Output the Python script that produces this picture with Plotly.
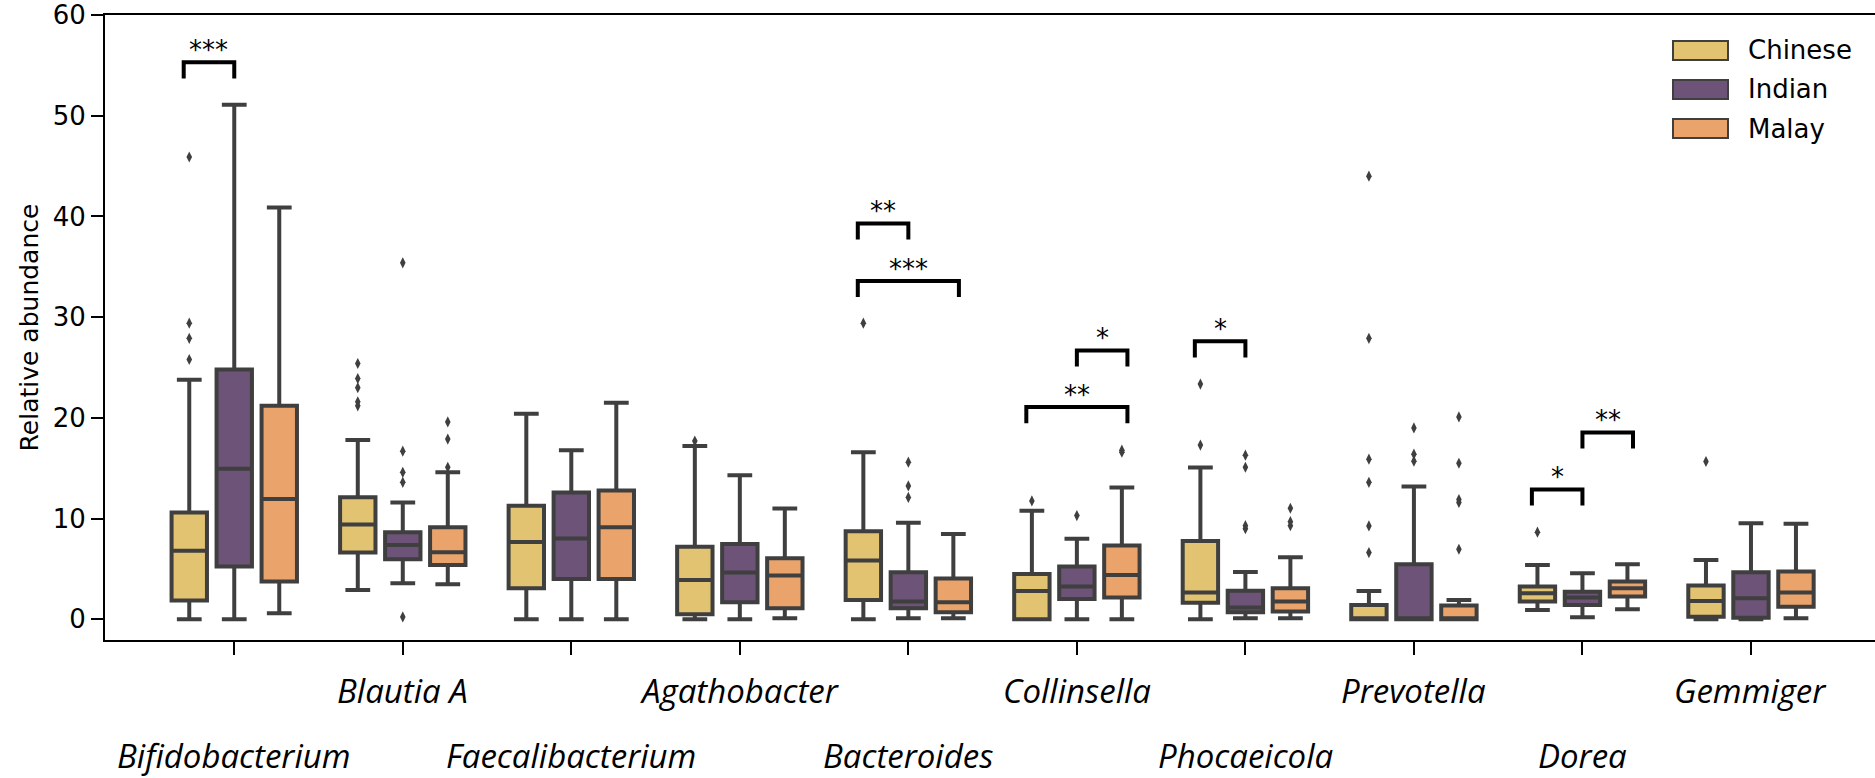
import plotly.graph_objects as go

# Genera on the x axis
genera = ["Bifidobacterium", "Blautia A", "Faecalibacterium", "Agathobacter",
          "Bacteroides", "Collinsella", "Phocaeicola", "Prevotella", "Dorea", "Gemmiger"]
groups = ["Chinese", "Indian", "Malay"]
colors = ["#E1C372", "#6C5377", "#EAA46B"]

# Box statistics per group (one value per genus)
chinese_low = [0, 2.92, 0, 0, 0, 0, 0, 0, 0.93, 0]
chinese_q1 = [1.86, 6.63, 3.09, 0.5, 1.93, 0.0, 1.66, 0.0, 1.76, 0.27]
chinese_med = [6.8, 9.41, 7.69, 3.9, 5.84, 2.82, 2.66, 0.02, 2.59, 1.83]
chinese_q3 = [10.6, 12.13, 11.27, 7.2, 8.75, 4.51, 7.79, 1.43, 3.25, 3.35]
chinese_high = [23.8, 17.8, 20.4, 17.2, 16.6, 10.77, 15.07, 2.82, 5.4, 5.9]
chinese_out = [[25.8, 27.9, 29.4, 45.9], [21.2, 21.6, 23.0, 23.9, 25.4], [], [17.7], [29.4],
               [11.76], [17.3, 23.36], [6.63, 9.28, 13.6, 15.9, 27.9, 44.0], [8.65], [15.67]]

indian_low = [0, 3.58, 0, 0, 0.1, 0, 0.1, 0, 0.2, 0]
indian_q1 = [5.24, 5.97, 4.01, 1.7, 1.1, 2.03, 0.7, 0, 1.43, 0.17]
indian_med = [14.94, 7.39, 8.02, 4.64, 1.76, 3.25, 1.17, 0.1, 2.16, 2.1]
indian_q3 = [24.8, 8.65, 12.6, 7.49, 4.68, 5.24, 2.85, 5.47, 2.75, 4.68]
indian_high = [51.1, 11.6, 16.8, 14.3, 9.58, 7.99, 4.71, 13.2, 4.58, 9.55]
indian_out = [[], [0.24, 13.6, 14.6, 16.7, 35.4], [], [], [12.1, 13.25, 15.6], [10.3],
              [9.0, 9.3, 15.1, 16.3], [15.7, 16.4, 19.0], [], []]

malay_low = [0.6, 3.48, 0, 0.1, 0.1, 0, 0.1, 0, 1.0, 0.1]
malay_q1 = [3.75, 5.4, 4.0, 1.1, 0.7, 2.16, 0.77, 0, 2.26, 1.26]
malay_med = [11.96, 6.66, 9.15, 4.35, 1.7, 4.41, 1.76, 0.05, 3.09, 2.66]
malay_q3 = [21.2, 9.15, 12.8, 6.07, 4.05, 7.33, 3.09, 1.37, 3.75, 4.74]
malay_high = [40.9, 14.6, 21.5, 11.0, 8.48, 13.1, 6.17, 1.93, 5.47, 9.48]
malay_out = [[], [15.1, 17.9, 19.6], [], [], [], [16.6, 16.8], [9.3, 9.7, 11.03],
             [6.96, 11.6, 11.9, 15.5, 20.1], [], []]

# Significance brackets: genus index, first group, second group, bar height, label
sig_genus = [0, 4, 4, 5, 5, 6, 8, 8]
sig_a = [0, 0, 0, 1, 0, 0, 0, 1]
sig_b = [1, 1, 2, 2, 2, 1, 1, 2]
sig_height = [55.3, 39.3, 33.6, 26.7, 21.07, 27.6, 12.9, 18.55]
sig_label = ["***", "**", "***", "*", "**", "*", "*", "**"]

stats = [
    (chinese_low, chinese_q1, chinese_med, chinese_q3, chinese_high, chinese_out),
    (indian_low, indian_q1, indian_med, indian_q3, indian_high, indian_out),
    (malay_low, malay_q1, malay_med, malay_q3, malay_high, malay_out),
]

EDGE = "#3f3f3f"
hue_offsets = [-0.267, 0.0, 0.267]
bracket_offsets = [-0.3, 0.0, 0.3]
FONT = "DejaVu Sans"

fig = go.Figure()

for g, (low, q1, med, q3, high, outs) in enumerate(stats):
    pos = [i + hue_offsets[g] for i in range(len(genera))]
    fig.add_trace(go.Box(
        x=pos, q1=q1, median=med, q3=q3, lowerfence=low, upperfence=high,
        orientation="v", width=0.21, whiskerwidth=0.7,
        fillcolor=colors[g], line=dict(color=EDGE, width=4),
        boxpoints=False, showlegend=False, hoverinfo="skip", name=groups[g],
    ))
    ox, oy = [], []
    for i, vals in enumerate(outs):
        for v in vals:
            ox.append(pos[i])
            oy.append(v)
    fig.add_trace(go.Scatter(
        x=ox, y=oy, mode="markers",
        marker=dict(symbol="diamond-tall", size=8, color=EDGE, line=dict(width=0)),
        showlegend=False, hoverinfo="skip",
    ))

leg = 1.6
for c, a, b, h, lab in zip(sig_genus, sig_a, sig_b, sig_height, sig_label):
    xa = c + bracket_offsets[a]
    xb = c + bracket_offsets[b]
    fig.add_trace(go.Scatter(
        x=[xa, xa, xb, xb], y=[h - leg, h, h, h - leg], mode="lines",
        line=dict(color="black", width=4), showlegend=False, hoverinfo="skip",
    ))
    fig.add_annotation(x=(xa + xb) / 2, y=h + 1.8, text=lab, showarrow=False,
                       yshift=-6, font=dict(family=FONT, size=26, color="black"))

# Plot area geometry in pixels (for paper-coordinate placement)
W, H = 1875, 778
L, R, T, B = 105, 0, 15, 138
pw, ph = W - L - R, H - T - B


def px_x(px):
    return (px - L) / pw


def px_y(py):
    return (H - B - py) / ph


# Staggered genus labels
for i, name in enumerate(genera):
    row_y = 755 if i % 2 == 0 else 691
    fig.add_annotation(
        x=i, xref="x", y=px_y(row_y), yref="paper", text=f"<i>{name}</i>",
        showarrow=False, yanchor="middle",
        font=dict(family="Open Sans", size=33, color="black"),
    )

# Legend
leg_top = [41, 80, 119]
for g, name in enumerate(groups):
    fig.add_shape(type="rect", xref="paper", yref="paper",
                  x0=px_x(1673), x1=px_x(1728), y0=px_y(leg_top[g] + 19), y1=px_y(leg_top[g]),
                  fillcolor=colors[g], line=dict(color=EDGE, width=2))
    fig.add_annotation(xref="paper", yref="paper", x=px_x(1746), y=px_y(leg_top[g] + 9.5),
                       text=name, showarrow=False, xanchor="left", yanchor="middle",
                       font=dict(family=FONT, size=26, color="black"))

fig.update_layout(
    width=W, height=H,
    margin=dict(l=L, r=R, t=T, b=B, pad=0),
    plot_bgcolor="white", paper_bgcolor="white",
    font=dict(family=FONT, size=26, color="black"),
    boxmode="overlay",
    xaxis=dict(
        range=[-0.767, 9.736], tickvals=list(range(len(genera))),
        ticktext=[""] * len(genera), ticks="outside", ticklen=13, tickwidth=1.5,
        tickcolor="black", showline=True, linecolor="black", linewidth=2,
        mirror=True, showgrid=False, zeroline=False,
    ),
    yaxis=dict(
        range=[-2.05, 60], tickvals=[0, 10, 20, 30, 40, 50, 60],
        ticks="outside", ticklen=12, tickwidth=1.5, tickcolor="black",
        showline=True, linecolor="black", linewidth=2, showgrid=False, zeroline=False,
        tickfont=dict(family=FONT, size=26, color="black"),
        title=dict(text="Relative abundance", font=dict(family=FONT, size=25, color="black"),
                   standoff=7),
    ),
)

fig.write_html("out.html")
